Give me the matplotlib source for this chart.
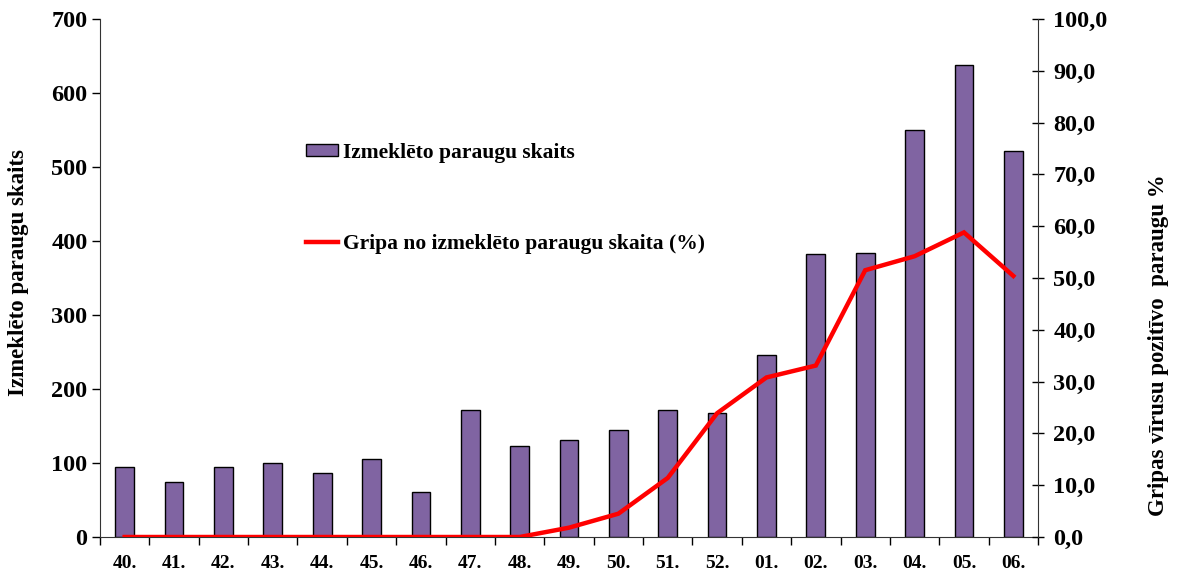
import matplotlib
matplotlib.use("Agg")
import matplotlib.pyplot as plt
import numpy as np

weeks = ["40.", "41.", "42.", "43.", "44.", "45.", "46.", "47.", "48.", "49.",
         "50.", "51.", "52.", "01.", "02.", "03.", "04.", "05.", "06."]
samples = [95, 75, 95, 100, 86, 105, 61, 172, 123, 131,
           145, 172, 167, 246, 382, 384, 550, 638, 522]
positive_pct = [0.0, 0.0, 0.0, 0.0, 0.0, 0.0, 0.0, 0.0, 0.0, 1.8,
                4.5, 11.4, 23.9, 30.8, 33.1, 51.5, 54.2, 58.8, 50.4]

bar_label = "Izmeklēto paraugu skaits"
line_label = "Gripa no izmeklēto paraugu skaita (%)"
left_ylabel = "Izmeklēto paraugu skaits"
right_ylabel = "Gripas vīrusu pozitīvo  paraugu %"

plt.rcParams['font.family'] = ['Liberation Serif', 'DejaVu Serif']
plt.rcParams['font.weight'] = 'bold'

fig = plt.figure(figsize=(11.77, 5.76), dpi=100)
ax = fig.add_axes([100/1177, 1-537/576, (1038-100)/1177, (537-19)/576])
ax2 = ax.twinx()

x = np.arange(len(weeks))
bars = ax.bar(x, samples, width=0.38, color="#8064A2", edgecolor="black",
              linewidth=1, label=bar_label, zorder=2)
line, = ax2.plot(x, positive_pct, color="#FF0000", linewidth=3.2,
                 label=line_label, zorder=3, solid_joinstyle='miter')

ax.set_xlim(-0.5, len(weeks) - 0.5)
ax.set_ylim(0, 700)
ax.set_yticks(np.arange(0, 701, 100))
ax2.set_ylim(0, 100)
ax2.set_yticks(np.arange(0, 101, 10))
ax2.set_yticklabels([f"{v:.1f}".replace(".", ",") for v in np.arange(0, 101, 10)])

ax.set_xticks(x)
ax.set_xticklabels(weeks)
ax.set_xticks(np.arange(-0.5, len(weeks), 1), minor=True)
ax.tick_params(axis='x', which='major', length=0, pad=13, labelsize=14)
ax.tick_params(axis='x', which='minor', length=6, direction='out', width=1)
ax.tick_params(axis='y', length=6, direction='out', labelsize=17.5, width=1, pad=3)
ax2.tick_params(axis='y', length=8, direction='inout', labelsize=17.5, width=1, pad=7)

for a in (ax, ax2):
    a.spines['top'].set_visible(False)
ax2.spines['left'].set_visible(False)
ax2.spines['bottom'].set_visible(False)
ax.spines['right'].set_visible(False)
for s in ('left', 'bottom'):
    ax.spines[s].set_color('#333333')
ax2.spines['right'].set_color('#333333')

for lab in ax.get_yticklabels() + ax2.get_yticklabels() + ax.get_xticklabels():
    lab.set_fontweight('bold')

ax.set_ylabel(left_ylabel, fontsize=16.5, fontweight='bold')
ax.yaxis.set_label_coords(-0.076, 0.51)
ax2.set_ylabel(right_ylabel, fontsize=16.5, fontweight='bold')
ax2.yaxis.set_label_coords(1.117, 0.37)

fig.legend([bars, line], [bar_label, line_label],
           loc='upper left', bbox_to_anchor=(306/1177, 1-143/576),
           frameon=False, labelspacing=3.3,
           handlelength=1.5, handleheight=0.5, handletextpad=0.2,
           borderpad=0, borderaxespad=0, prop={'weight': 'bold', 'size': 15.5})

fig.savefig("out.png", dpi=100)
